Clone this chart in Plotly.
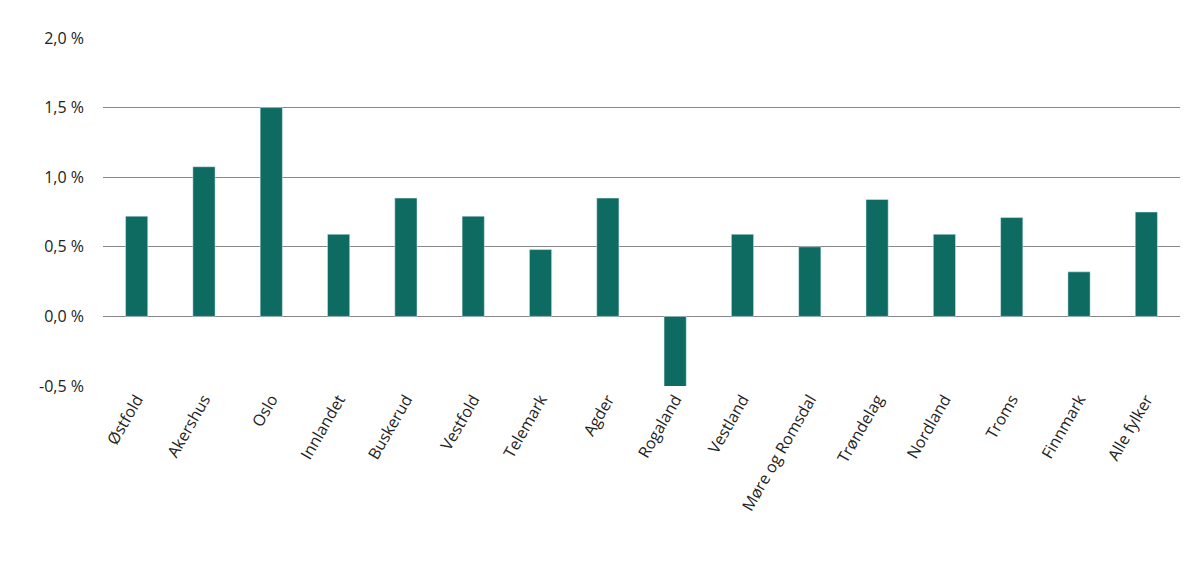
import plotly.graph_objects as go

fylker = ['Østfold', 'Akershus', 'Oslo', 'Innlandet', 'Buskerud', 'Vestfold', 'Telemark',
          'Agder', 'Rogaland', 'Vestland', 'Møre og Romsdal', 'Trøndelag', 'Nordland',
          'Troms', 'Finnmark', 'Alle fylker']
verdier = [0.72, 1.075, 1.50, 0.59, 0.85, 0.72, 0.48, 0.85, -0.55, 0.59, 0.50, 0.84,
           0.59, 0.71, 0.32, 0.75]
tick_vals = [-0.5, 0, 0.5, 1.0, 1.5, 2.0]
tick_text = ['-0,5 %', '0,0 %', '0,5 %', '1,0 %', '1,5 %', '2,0 %']

fig = go.Figure(go.Bar(x=fylker, y=verdier, marker_color='#0d6b62'))
fig.update_layout(
    width=1200, height=568,
    margin=dict(l=95, r=28, t=30, b=190),
    plot_bgcolor='white', paper_bgcolor='white',
    bargap=0.67, showlegend=False,
    font=dict(family='Open Sans', size=16, color='#222'),
)
fig.update_yaxes(range=[-0.5, 2.0], tickvals=tick_vals, ticktext=tick_text,
                 gridcolor='#888', gridwidth=1, zeroline=False, ticklabelstandoff=18)
fig.update_xaxes(tickangle=-60, showline=False)
fig.write_html("out.html")
